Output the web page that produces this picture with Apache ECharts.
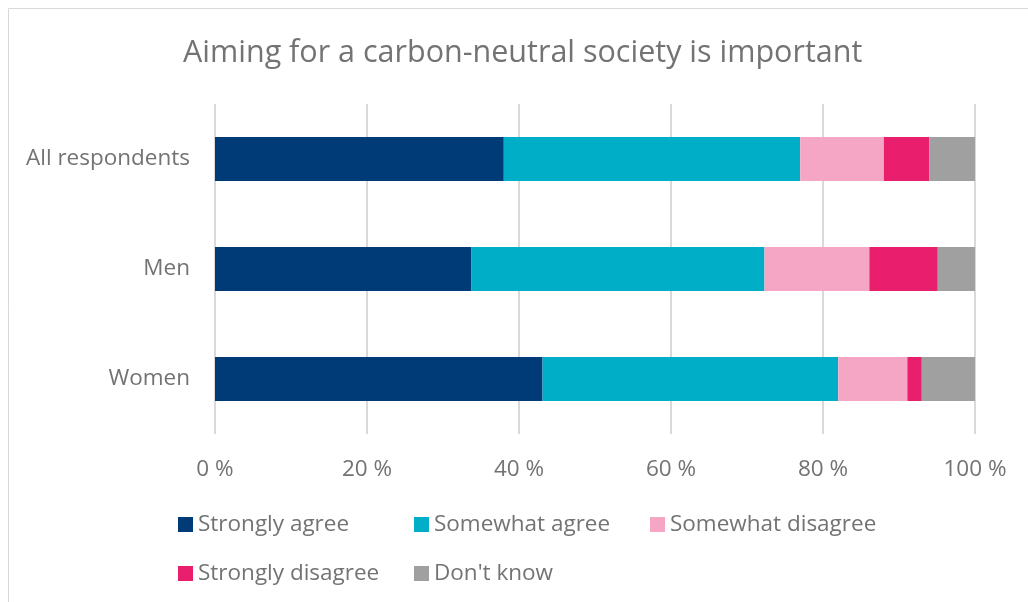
<!DOCTYPE html>
<html><head><meta charset="utf-8">
<script src="https://cdn.jsdelivr.net/npm/echarts@6/dist/echarts.min.js"></script>
<style>html,body{margin:0;padding:0;background:#fff}#c{width:1028px;height:602px}</style>
</head><body><div id="c"></div>
<script>
const categories = ['All respondents', 'Men', 'Women'];
const seriesNames = ['Strongly agree', 'Somewhat agree', 'Somewhat disagree', 'Strongly disagree', "Don't know"];
const stronglyAgree = [38, 33.7, 43.1];
const somewhatAgree = [39, 38.6, 38.9];
const somewhatDisagree = [11, 13.8, 9.1];
const stronglyDisagree = [6, 9.0, 1.9];
const dontKnow = [6, 4.9, 7.0];
const tickValues = [0, 20, 40, 60, 80, 100];
const colors = ['#003B78', '#00AEC7', '#F4A6C4', '#E91E6C', '#A0A0A0'];
const values = [stronglyAgree, somewhatAgree, somewhatDisagree, stronglyDisagree, dontKnow];

const chart = echarts.init(document.getElementById('c'));
const font = "'Open Sans', 'Noto Sans', sans-serif";
chart.setOption({
  animation: false,
  color: colors,
  title: {
    text: 'Aiming for a carbon-neutral society is important',
    left: 178, top: 33,
    textStyle: {fontFamily: font, fontSize: 30.5, fontWeight: 'normal', color: '#737373'}
  },
  graphic: [{type: 'rect', shape: {x: 8.5, y: 8.5, width: 1100, height: 700},
    style: {fill: 'none', stroke: '#d9d9d9', lineWidth: 1}, silent: true}],
  legend: {
    left: 178, top: 503, width: 720, padding: 0,
    itemWidth: 15, itemHeight: 15, itemGap: 6,
    icon: 'rect',
    textStyle: {fontFamily: font, fontSize: 22.5, color: '#737373', width: 210, lineHeight: 43},
    data: seriesNames
  },
  grid: {left: 215, right: 53, top: 104, bottom: 168},
  xAxis: {
    type: 'value', min: 0, max: 100, interval: 20,
    axisLine: {show: false}, axisTick: {show: false},
    splitLine: {lineStyle: {color: '#d9d9d9', width: 2}},
    axisLabel: {fontFamily: font, fontSize: 22.5, color: '#737373', margin: 24,
      formatter: v => tickValues.includes(v) ? v + ' %' : ''}
  },
  yAxis: {
    type: 'category', data: categories, inverse: true,
    axisLine: {show: false}, axisTick: {show: false},
    axisLabel: {fontFamily: font, fontSize: 22.5, color: '#737373', margin: 25}
  },
  series: seriesNames.map((n, i) => ({
    name: n, type: 'bar', stack: 'total', barWidth: 44,
    data: values[i], itemStyle: {color: colors[i]}
  }))
});
</script></body></html>
